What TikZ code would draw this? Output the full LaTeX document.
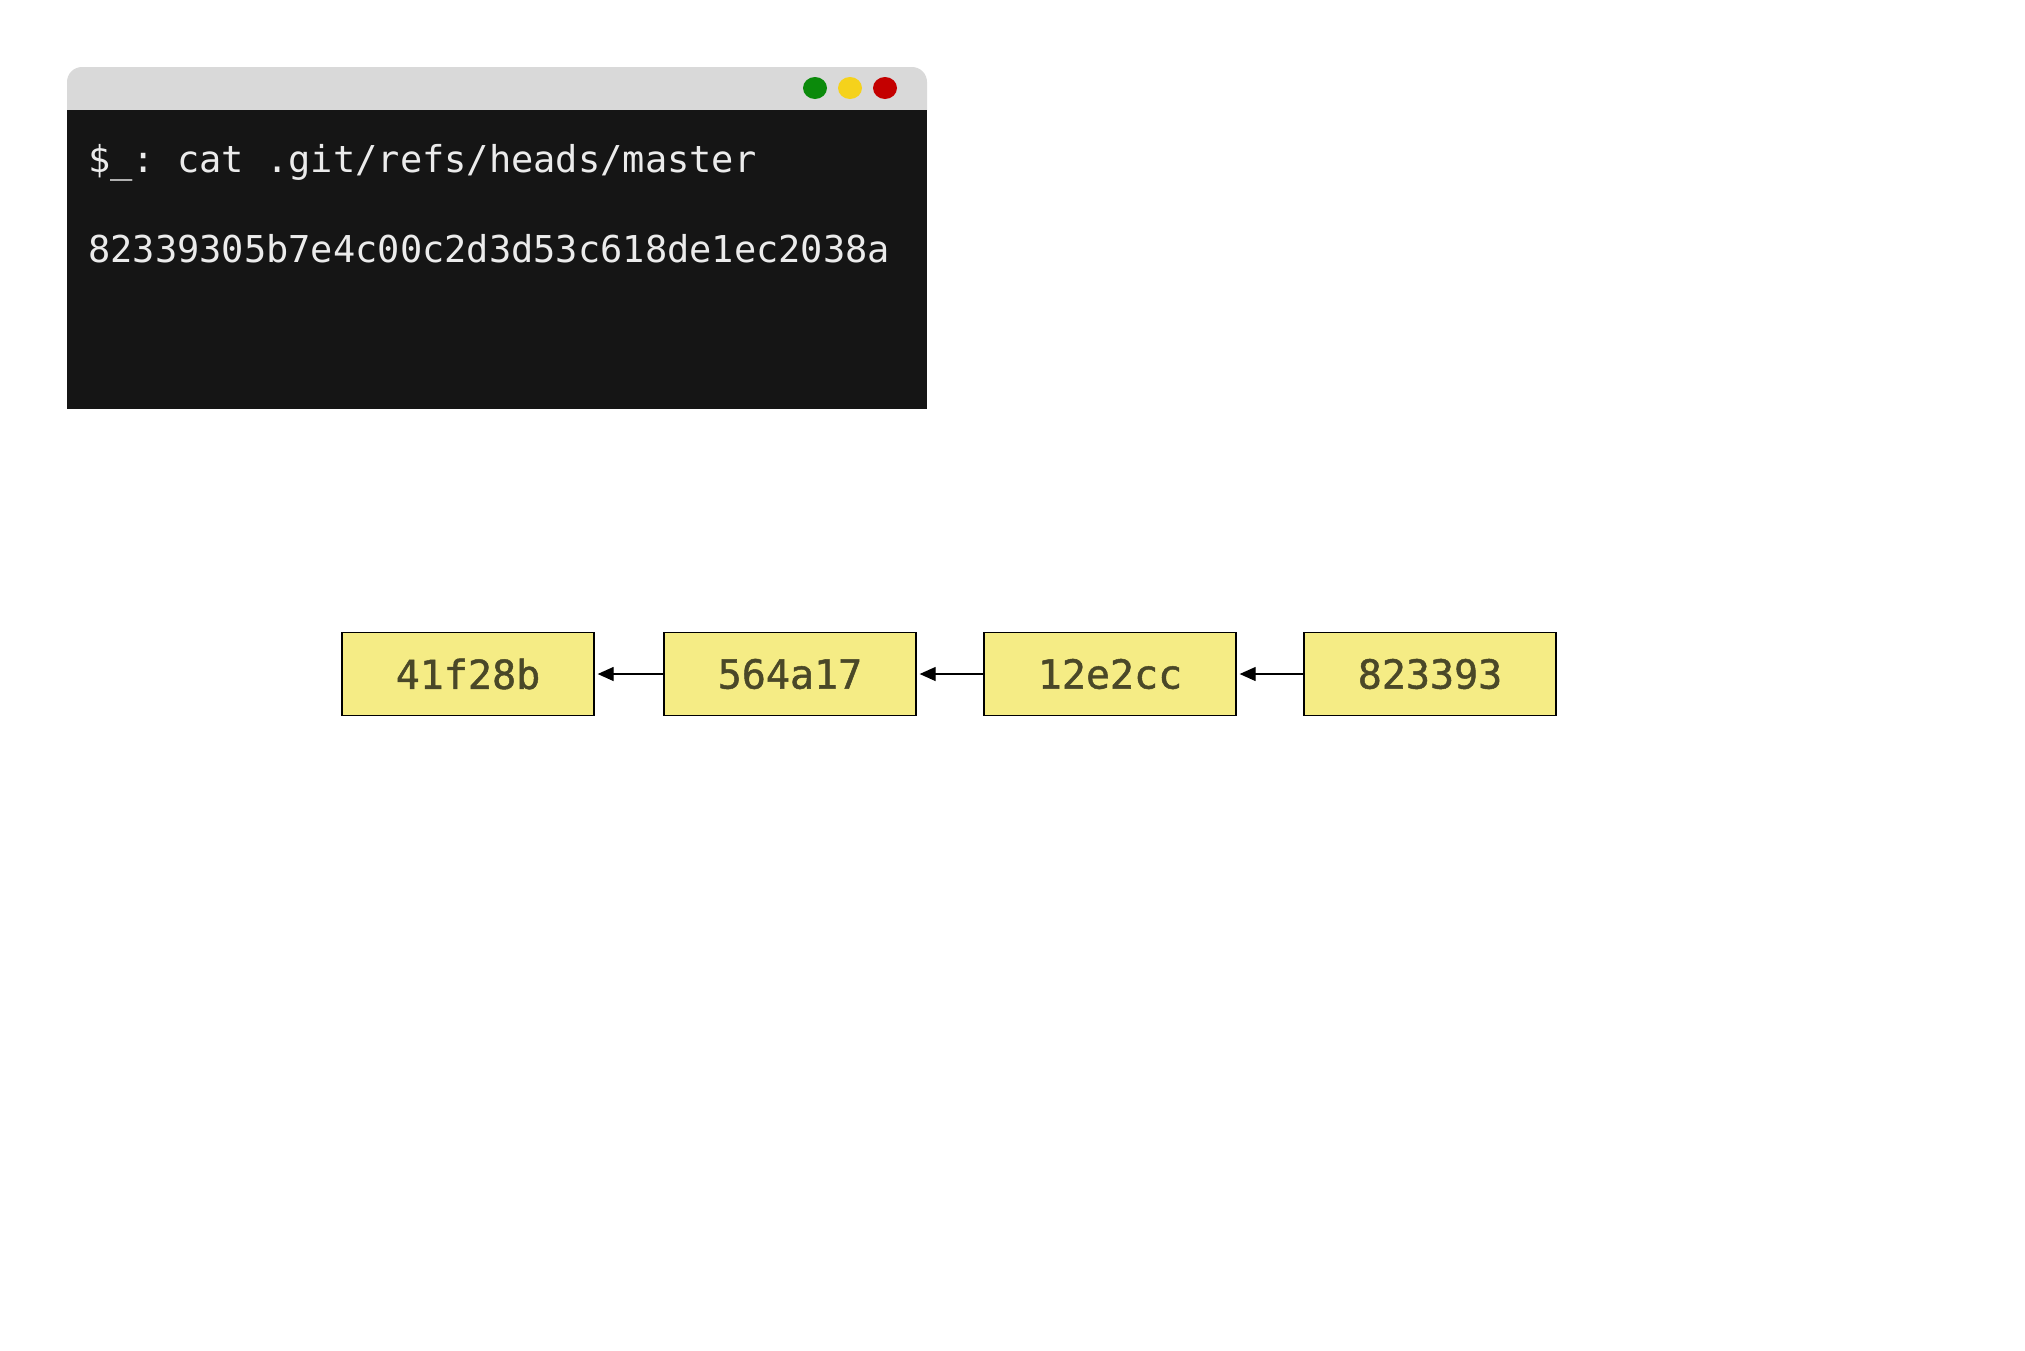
\documentclass[tikz,border=0pt]{standalone}
\usepackage{fontspec}
\setmonofont{DejaVu Sans Mono}
\newfontfamily\commitfont[FakeBold=1.2]{DejaVu Sans Mono}
\usetikzlibrary{arrows.meta}
\definecolor{termbg}{HTML}{151515}
\definecolor{termbar}{HTML}{D9D9D9}
\definecolor{dotgreen}{HTML}{0B8A0B}
\definecolor{dotyellow}{HTML}{F5D21B}
\definecolor{dotred}{HTML}{C40000}
\definecolor{commitfill}{HTML}{F5EC85}
\definecolor{committext}{HTML}{4A4828}
\tikzset{
  commit/.style={draw=black, line width=1.3pt, fill=commitfill, minimum width=252pt, minimum height=83pt, inner sep=0pt,
    font=\fontsize{40}{48}\selectfont\commitfont, text=committext},
  termtext/.style={anchor=base west, inner sep=0pt, text=white!92!black, font=\fontsize{37}{44}\selectfont\ttfamily},
  parent/.style={-{Triangle[length=16pt,width=14pt]}, line width=1.3pt},
}
\begin{document}
\begin{tikzpicture}[x=1pt,y=-1pt]
\useasboundingbox[fill=white] (0,0) rectangle (2025,1350);
% terminal window
\fill[termbar, rounded corners=15pt] (67,67) rectangle (927,125);
\fill[termbar] (67,100) rectangle (927,110);
\fill[termbg] (67,110) rectangle (927,409);
\fill[dotgreen] (815,88) ellipse [x radius=12, y radius=11];
\fill[dotyellow] (850,88) ellipse [x radius=12, y radius=11];
\fill[dotred] (885,88) ellipse [x radius=12, y radius=11];
\node[termtext] (cmd) at (88,172) {\$\_: cat .git/refs/heads/master};
\node[termtext] (out) at (88,262) {82339305b7e4c00c2d3d53c618de1ec2038a};
% commits
\node[commit] (c1) at (468,674) {41f28b};
\node[commit] (c2) at (790,674) {564a17};
\node[commit] (c3) at (1110,674) {12e2cc};
\node[commit] (c4) at (1430,674) {823393};
\draw[parent] (c2.west) -- ([xshift=3pt]c1.east);
\draw[parent] (c3.west) -- ([xshift=3pt]c2.east);
\draw[parent] (c4.west) -- ([xshift=3pt]c3.east);
\end{tikzpicture}
\end{document}
